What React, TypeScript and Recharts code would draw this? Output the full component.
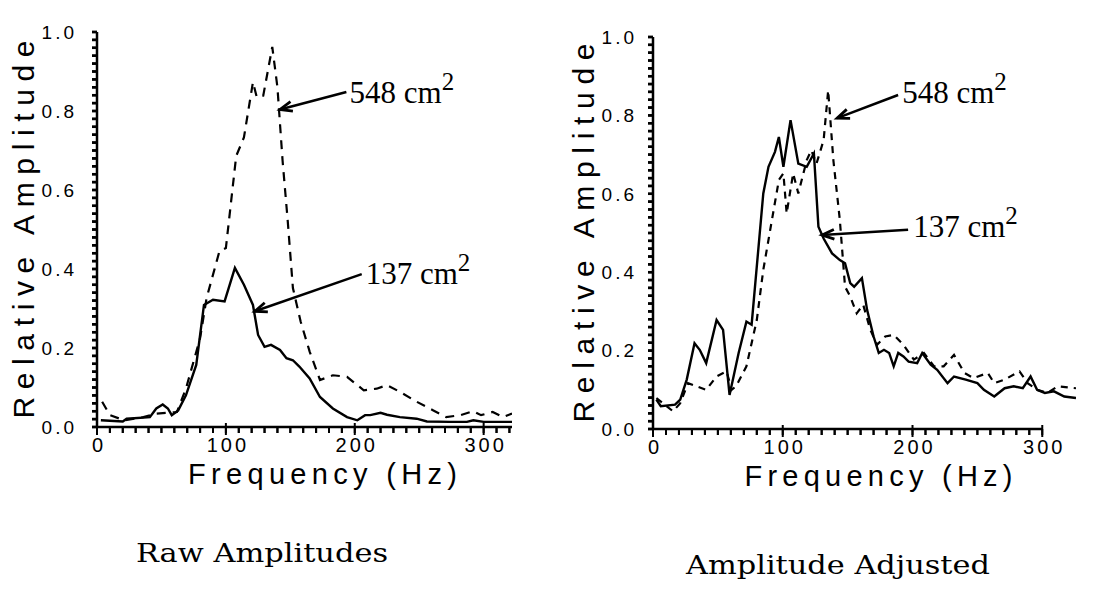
import React from 'react';
import { LineChart, Line, XAxis, YAxis, ReferenceLine, ReferenceDot } from 'recharts';

// ---- Raw Amplitudes (left panel) ----
const raw137Freq = [3, 20, 23, 41, 46, 51, 55, 58, 63, 69, 77, 83, 90, 99, 107, 114, 121, 125, 130, 135, 142, 147, 152, 157, 165, 173, 183, 194, 202, 208, 212, 220, 225, 235, 248, 256, 274, 287, 292, 300, 322];
const raw137Amp = [0.017, 0.014, 0.021, 0.025, 0.047, 0.057, 0.047, 0.03, 0.042, 0.08, 0.157, 0.309, 0.322, 0.318, 0.403, 0.36, 0.309, 0.233, 0.203, 0.208, 0.195, 0.174, 0.169, 0.153, 0.123, 0.076, 0.047, 0.025, 0.017, 0.03, 0.03, 0.036, 0.031, 0.025, 0.021, 0.014, 0.013, 0.013, 0.017, 0.013, 0.013];

const raw548Freq = [4, 10, 21, 36, 46, 62, 69, 80, 85, 95, 100, 108, 114, 121, 124, 129, 136, 140, 144, 148, 152, 158, 165, 173, 183, 194, 207, 217, 225, 235, 248, 261, 271, 282, 292, 298, 307, 315, 322];
const raw548Amp = [0.064, 0.03, 0.017, 0.025, 0.034, 0.038, 0.097, 0.225, 0.326, 0.445, 0.453, 0.686, 0.733, 0.873, 0.835, 0.839, 0.962, 0.86, 0.674, 0.521, 0.352, 0.267, 0.191, 0.119, 0.131, 0.127, 0.093, 0.097, 0.106, 0.089, 0.064, 0.042, 0.025, 0.03, 0.04, 0.03, 0.038, 0.025, 0.034];

// ---- Amplitude Adjusted (right panel) ----
const adj137Freq = [2.6, 6, 17, 21, 26, 32, 36, 41, 49, 54, 59, 66, 72, 76, 85, 89, 94, 97, 100.5, 106, 112, 118.5, 124, 127.5, 131.5, 138, 144, 148, 152, 155, 161, 165, 170, 174, 178, 182, 185.5, 189, 193, 197, 203.6, 207.5, 214, 219, 227, 232, 241, 250, 255, 263, 271, 278, 285, 291, 296, 302, 309, 317, 326];
const adj137Amp = [0.075, 0.058, 0.062, 0.075, 0.126, 0.219, 0.202, 0.168, 0.278, 0.253, 0.087, 0.194, 0.274, 0.266, 0.601, 0.669, 0.707, 0.745, 0.669, 0.788, 0.677, 0.669, 0.703, 0.516, 0.486, 0.448, 0.431, 0.423, 0.372, 0.363, 0.385, 0.304, 0.236, 0.194, 0.202, 0.194, 0.16, 0.194, 0.185, 0.172, 0.168, 0.194, 0.164, 0.151, 0.117, 0.134, 0.126, 0.117, 0.1, 0.083, 0.104, 0.109, 0.104, 0.134, 0.1, 0.092, 0.096, 0.083, 0.079];

const adj548Freq = [2.6, 15.5, 21, 27, 33.5, 41, 49, 56.7, 60.6, 64, 72, 80, 85, 93, 97, 100.5, 103, 108, 112, 118.5, 122, 126, 131.5, 135, 139, 144, 148, 152, 157, 162, 167.5, 172.7, 179, 185.5, 193, 201, 208.8, 216.5, 224, 232, 240, 247, 258, 263, 271, 282.5, 288.7, 296, 304, 312, 326];
const adj548Amp = [0.079, 0.045, 0.066, 0.117, 0.109, 0.1, 0.134, 0.147, 0.1, 0.109, 0.16, 0.278, 0.406, 0.559, 0.635, 0.652, 0.55, 0.652, 0.601, 0.686, 0.711, 0.677, 0.737, 0.864, 0.686, 0.533, 0.363, 0.338, 0.295, 0.317, 0.253, 0.215, 0.236, 0.24, 0.215, 0.177, 0.194, 0.16, 0.16, 0.189, 0.143, 0.13, 0.143, 0.117, 0.126, 0.147, 0.117, 0.1, 0.092, 0.109, 0.104];

const yMajorTicks = [0, 0.2, 0.4, 0.6, 0.8, 1.0];
const xMajorTicks = [0, 100, 200, 300];
const seriesLabels = ['548 cm', '137 cm'];
const panelTitles = ['Raw Amplitudes', 'Amplitude Adjusted'];
const yTitle = 'Relative Amplitude';
const xTitle = 'Frequency (Hz)';

const zip = (f: number[], a: number[]) => f.map((x, i) => ({ f: x, a: a[i] }));

const yMinor: number[] = [];
for (let i = 0; i <= 50; i++) yMinor.push(Math.round(i * 2) / 100);
const makeXMinor = (max: number) => {
  const t: number[] = [];
  for (let v = 0; v <= max; v += 10) t.push(v);
  return t;
};

const SANS = 'Liberation Sans, Arial, sans-serif';
const SERIF = 'Liberation Serif, Times New Roman, serif';

const isMajorY = (v: number) => yMajorTicks.some((m) => Math.abs(m - v) < 1e-6);
const isMajorX = (v: number) => xMajorTicks.some((m) => Math.abs(m - v) < 1e-6);

const YTick = (props: any) => {
  const { x, y, payload } = props;
  if (!isMajorY(payload.value)) return <g />;
  return (
    <text x={x} y={y} dy="0.36em" textAnchor="end" fontSize={19} fontFamily={SANS} letterSpacing={3} fill="#000">
      {payload.value.toFixed(1)}
    </text>
  );
};

const XTick = (props: any) => {
  const { x, y, payload } = props;
  if (!isMajorX(payload.value)) return <g />;
  return (
    <text x={x + 2} y={y} dy="0.75em" textAnchor="middle" fontSize={20} fontFamily={SANS} letterSpacing={3} fill="#000">
      {String(payload.value)}
    </text>
  );
};

// small tick mark drawn at the left end of a horizontal reference line
const YTickMark = (props: any) => {
  const { x1, y1, x2 } = props;
  if (typeof x1 !== 'number' || typeof y1 !== 'number') return <g />;
  const xl = Math.min(x1, typeof x2 === 'number' ? x2 : x1);
  return <line x1={xl - 5} y1={y1} x2={xl} y2={y1} stroke="#000" strokeWidth={2.4} />;
};

// small tick mark drawn at the bottom end of a vertical reference line
const XTickMark = (major: boolean) => (props: any) => {
  const { x1, y1, y2 } = props;
  if (typeof x1 !== 'number' || typeof y1 !== 'number') return <g />;
  const yb = Math.max(y1, typeof y2 === 'number' ? y2 : y1);
  return <line x1={x1} y1={major ? yb - 4 : yb} x2={x1} y2={yb + (major ? 8 : 6)} stroke="#000" strokeWidth={2} />;
};

const Arrow = (props: any) => {
  const { x1, y1, x2, y2 } = props;
  if ([x1, y1, x2, y2].some((v) => typeof v !== 'number' || isNaN(v))) return <g />;
  const ang = Math.atan2(y1 - y2, x1 - x2);
  const len = 13;
  const spread = 0.38;
  const ax = x2 + len * Math.cos(ang + spread);
  const ay = y2 + len * Math.sin(ang + spread);
  const bx = x2 + len * Math.cos(ang - spread);
  const by = y2 + len * Math.sin(ang - spread);
  return (
    <g>
      <line x1={x1} y1={y1} x2={x2} y2={y2} stroke="#000" strokeWidth={2.5} />
      <polyline points={`${ax},${ay} ${x2},${y2} ${bx},${by}`} fill="none" stroke="#000" strokeWidth={2.8} />
    </g>
  );
};

const makeNote = (label: string) => (props: any) => {
  const { cx, cy } = props;
  return (
    <text x={cx} y={cy} fontSize={31} fontFamily={SERIF} fill="#000">
      {label}
      <tspan dy={-13} fontSize={25}>2</tspan>
    </text>
  );
};

type PanelProps = {
  left: number;
  top: number;
  margin: { top: number; right: number; bottom: number; left: number };
  xMax: number;
  axisEnd: number;
  s137: { f: number; a: number }[];
  s548: { f: number; a: number }[];
  yTitleDx: number;
  yTitleLen: number;
  xTitleDx: number;
  xTitleLen: number;
  tickMarginY: number;
  notes: { text: string; tx: number; ty: number; ax1: number; ay1: number; ax2: number; ay2: number }[];
  dash: string;
};

const Panel = (p: PanelProps) => {
  const xTicks = makeXMinor(p.axisEnd);
  return (
    <div style={{ position: 'absolute', left: p.left, top: p.top }}>
      <LineChart width={540} height={500} margin={p.margin}>
        <XAxis
          type="number"
          dataKey="f"
          domain={[0, p.xMax]}
          ticks={xTicks}
          interval={0}
          tick={<XTick />}
          tickSize={6}
          tickMargin={4}
          height={30}
          axisLine={p.axisEnd >= p.xMax ? { stroke: '#000', strokeWidth: 2.5 } : false}
          tickLine={{ stroke: '#000', strokeWidth: 2 }}
          allowDataOverflow
          label={{
            content: (lp: any) => {
              const vb = lp.viewBox || {};
              return (
                <text
                  x={vb.x + vb.width / 2 + p.xTitleDx}
                  y={vb.y + 57}
                  textAnchor="middle"
                  fontSize={29}
                  fontFamily={SANS}
                  textLength={p.xTitleLen}
                  lengthAdjust="spacing"
                  fill="#000"
                >
                  {xTitle}
                </text>
              );
            },
          }}
        />
        <YAxis
          type="number"
          domain={[0, 1]}
          ticks={yMinor}
          interval={0}
          tick={<YTick />}
          tickSize={5}
          tickMargin={p.tickMarginY}
          width={60}
          axisLine={{ stroke: '#000', strokeWidth: 2.5 }}
          tickLine={{ stroke: '#000', strokeWidth: 2.5 }}
          allowDataOverflow
          label={{
            content: (lp: any) => {
              const vb = lp.viewBox || {};
              const cx = vb.x + p.yTitleDx;
              const cy = vb.y + vb.height / 2;
              return (
                <text
                  x={cx}
                  y={cy}
                  transform={`rotate(-90 ${cx} ${cy})`}
                  textAnchor="middle"
                  fontSize={30}
                  fontFamily={SANS}
                  textLength={p.yTitleLen}
                  lengthAdjust="spacing"
                  fill="#000"
                >
                  {yTitle}
                </text>
              );
            },
          }}
        />
        {yMinor.map((v) => (
          <ReferenceLine key={'yt' + v} y={v} ifOverflow="visible" shape={YTickMark} />
        ))}
        {xTicks.map((v) => (
          <ReferenceLine key={'xt' + v} x={v} ifOverflow="visible" shape={XTickMark(isMajorX(v))} />
        ))}
        {p.axisEnd < p.xMax && (
          <ReferenceLine
            segment={[{ x: 0, y: 0 }, { x: p.axisEnd, y: 0 }]}
            stroke="#000"
            strokeWidth={2.5}
            ifOverflow="visible"
          />
        )}
        <Line
          data={p.s548}
          dataKey="a"
          type="linear"
          dot={false}
          stroke="#000"
          strokeWidth={2.2}
          strokeDasharray={p.dash}
          isAnimationActive={false}
        />
        <Line
          data={p.s137}
          dataKey="a"
          type="linear"
          dot={false}
          stroke="#000"
          strokeWidth={2.4}
          isAnimationActive={false}
        />
        {p.notes.map((n, i) => (
          <ReferenceLine
            key={'a' + i}
            segment={[{ x: n.ax1, y: n.ay1 }, { x: n.ax2, y: n.ay2 }]}
            ifOverflow="visible"
            shape={Arrow}
          />
        ))}
        {p.notes.map((n, i) => (
          <ReferenceDot key={'t' + i} x={n.tx} y={n.ty} r={0} ifOverflow="visible" shape={makeNote(n.text)} />
        ))}
      </LineChart>
    </div>
  );
};

export default function App() {
  return (
    <div style={{ position: 'absolute', left: 0, top: 0, width: 1098, height: 590, background: '#fff', overflow: 'hidden' }}>
      <Panel
        left={0}
        top={0}
        margin={{ top: 32, right: 28, bottom: 43, left: 37 }}
        xMax={322}
        axisEnd={322}
        s137={zip(raw137Freq, raw137Amp)}
        s548={zip(raw548Freq, raw548Amp)}
        yTitleDx={-3}
        yTitleLen={378}
        xTitleDx={18}
        xTitleLen={269}
        tickMarginY={15}
        dash="9 7"
        notes={[
          { text: seriesLabels[0], tx: 196, ty: 0.82, ax1: 193.5, ay1: 0.848, ax2: 142, ay2: 0.804 },
          { text: seriesLabels[1], tx: 208.5, ty: 0.361, ax1: 205.4, ay1: 0.387, ax2: 122.5, ay2: 0.293 },
        ]}
      />
      <Panel
        left={556}
        top={0}
        margin={{ top: 37, right: 20, bottom: 41, left: 37 }}
        xMax={326}
        axisEnd={300}
        s137={zip(adj137Freq, adj137Amp)}
        s548={zip(adj548Freq, adj548Amp)}
        yTitleDx={1}
        yTitleLen={379}
        xTitleDx={14}
        xTitleLen={268}
        tickMarginY={11}
        dash="7 6"
        notes={[
          { text: seriesLabels[0], tx: 192, ty: 0.832, ax1: 188.9, ay1: 0.852, ax2: 141.9, ay2: 0.793 },
          { text: seriesLabels[1], tx: 200.5, ty: 0.49, ax1: 196.6, ay1: 0.508, ax2: 130.3, ay2: 0.495 },
        ]}
      />
      <svg width={1098} height={590} style={{ position: 'absolute', left: 0, top: 0, pointerEvents: 'none' }}>
        <text x={136} y={562} fontSize={26} fontFamily="DejaVu Serif, serif" textLength={252} lengthAdjust="spacingAndGlyphs" fill="#000">
          {panelTitles[0]}
        </text>
        <text x={686} y={574} fontSize={26} fontFamily="DejaVu Serif, serif" textLength={304} lengthAdjust="spacingAndGlyphs" fill="#000">
          {panelTitles[1]}
        </text>
      </svg>
    </div>
  );
}
